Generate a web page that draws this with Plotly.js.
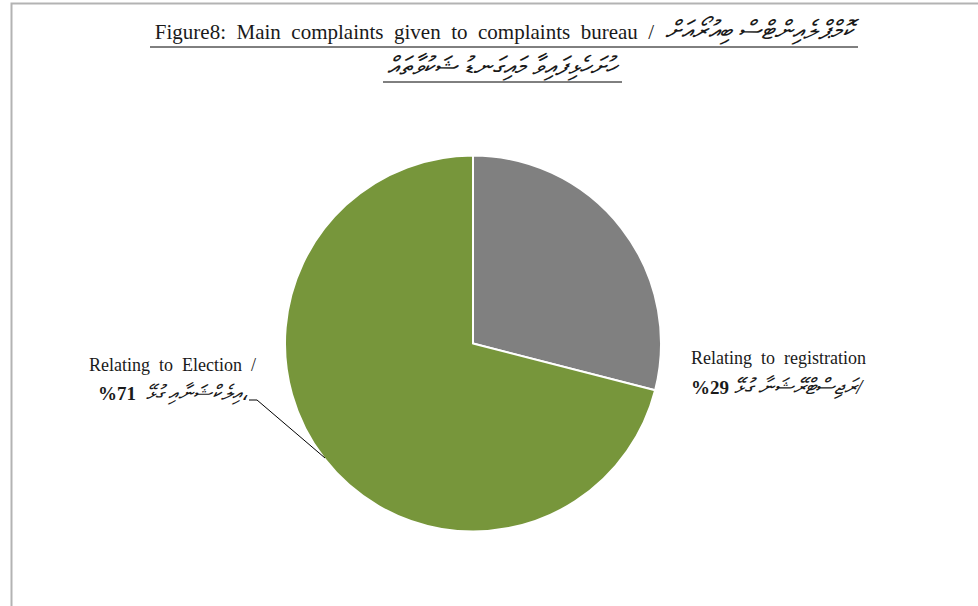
<!DOCTYPE html>
<html>
<head>
<meta charset="utf-8">
<script src="https://cdn.plot.ly/plotly-3.0.1.min.js"></script>
<style>html,body{margin:0;padding:0;background:#fff;}#chart{width:978px;height:606px;}</style>
</head>
<body>
<div id="chart"></div>
<script>
// Data
const categoriesEn = ["Relating to registration", "Relating to Election"];
const categoriesDv = ["ރަޖިސްޓްރޭޝަނާ ގުޅޭ", "އިލެކްޝަނާއި ގުޅޭ،"];
const values = [29, 71];
const sliceColors = ["#808080", "#77963B"];
const titleEn = "Figure8: Main complaints given to complaints bureau /";
const titleDv1 = "ކޮމްޕްލެއިންޓްސް ބިއުރޯއަށް";
const titleDv2 = "ހުށަހެޅިފައިވާ މައިގަނޑު ޝަކުވާތައް";

const serif = "Liberation Serif, Times New Roman, serif";
const W = 978, H = 606;
const px = x => x / W;
const py = y => 1 - y / H;
const wide = s => s.split(" ").join("\u2002");

const trace = {
  type: "pie",
  labels: categoriesEn,
  values: values,
  sort: false,
  direction: "clockwise",
  rotation: 0,
  textinfo: "none",
  hoverinfo: "label+percent",
  marker: {colors: sliceColors, line: {color: "#ffffff", width: 2}},
  domain: {x: [px(285), px(661)], y: [py(531.5), py(155.5)]},
  showlegend: false
};

const total = values.reduce((a, b) => a + b, 0);
const pct = v => Math.round(v / total * 100);
const txt = "#1a1a1a";

const annotations = [
  {text: "<i>" + titleDv2 + "</i>", x: px(503), y: py(67), xref: "paper", yref: "paper", showarrow: false,
   xanchor: "center", yanchor: "middle", font: {family: serif, size: 26, color: txt}},
  // Registration label
  {text: wide(categoriesEn[0]), x: px(689), y: py(358), xref: "paper", yref: "paper", showarrow: false,
   xanchor: "left", yanchor: "middle", font: {family: serif, size: 18, color: txt}},
  {text: "<b>%" + pct(values[0]) + "</b> <i><span style='font-size:22px'>" + categoriesDv[0] + "/</span></i>", x: px(689), y: py(386), xref: "paper", yref: "paper", showarrow: false,
   xanchor: "left", yanchor: "middle", font: {family: serif, size: 19, color: txt}},
  // Election label
  {text: wide(categoriesEn[1] + " /"), x: px(258), y: py(365), xref: "paper", yref: "paper", showarrow: false,
   xanchor: "right", yanchor: "middle", font: {family: serif, size: 18, color: txt}},
  {text: "<b>%" + pct(values[1]) + "</b>\u2002<i><span style='font-size:21px'>" + categoriesDv[1] + "</span></i>", x: px(250), y: py(393), xref: "paper", yref: "paper", showarrow: false,
   xanchor: "right", yanchor: "middle", font: {family: serif, size: 19, color: txt}}
];

const shapes = [
  {type: "rect", xref: "paper", yref: "paper", x0: px(11.5), x1: px(1000), y0: py(640), y1: py(3.5),
   line: {color: "#b3b3b3", width: 2}, fillcolor: "rgba(0,0,0,0)", layer: "below"},
  // title underlines
  {type: "line", xref: "paper", yref: "paper", x0: px(150), y0: py(47), x1: px(858), y1: py(47),
   line: {color: "#000", width: 1}},
  {type: "line", xref: "paper", yref: "paper", x0: px(383), y0: py(82), x1: px(622), y1: py(82),
   line: {color: "#000", width: 1}},
  // leader line
  {type: "line", xref: "paper", yref: "paper", x0: px(249), y0: py(400), x1: px(257), y1: py(400),
   line: {color: "#000", width: 1}},
  {type: "line", xref: "paper", yref: "paper", x0: px(257), y0: py(400), x1: px(325), y1: py(458),
   line: {color: "#000", width: 1}}
];

const layout = {
  width: W, height: H,
  margin: {l: 0, r: 0, t: 0, b: 0},
  paper_bgcolor: "#ffffff",
  title: {text: wide(titleEn) + "\u2002<i><span style='font-size:26px'>" + titleDv1 + "</span></i>", x: px(504), xanchor: "center", xref: "paper",
          y: py(32), yref: "container", yanchor: "middle",
          font: {family: serif, size: 21, color: txt}},
  annotations: annotations,
  shapes: shapes
};

Plotly.newPlot("chart", [trace], layout, {displayModeBar: false, staticPlot: true});
</script>
</body>
</html>
